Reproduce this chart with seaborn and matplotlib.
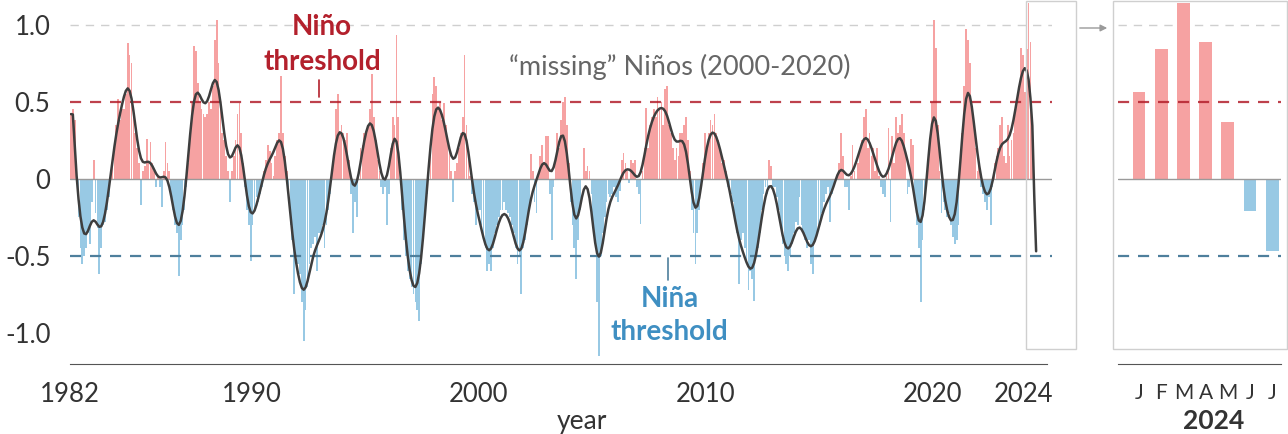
import numpy as np
import pandas as pd
import matplotlib
matplotlib.use("Agg")
import matplotlib.pyplot as plt
import seaborn as sns
from matplotlib.patches import Rectangle

# -----------------------------
# Monthly index, Jan 1982 .. Jul 2024
# -----------------------------
idx_1980s = [
    0.42, 0.45, 0.38, 0.05, -0.25, -0.45, -0.55, -0.50, -0.45, -0.35, -0.42, -0.15,  # 1982
    0.12, -0.22, -0.32, -0.62, -0.45, -0.30, -0.28, -0.20, -0.12, 0.05, 0.15, 0.22,  # 1983
    0.35, 0.52, 0.38, 0.45, 0.45, 0.55, 0.88, 0.80, 0.75, 0.40, 0.30, 0.20,  # 1984
    0.10, -0.17, 0.05, 0.08, 0.26, 0.10, 0.24, 0.10, 0.05, -0.05, 0.02, -0.05,  # 1985
    -0.18, 0.05, 0.24, 0.10, 0.05, -0.10, -0.20, -0.30, -0.35, -0.63, -0.40, -0.30,  # 1986
    -0.20, -0.05, 0.10, 0.30, 0.50, 0.86, 0.83, 0.62, 0.50, 0.45, 0.42, 0.40,  # 1987
    0.42, 0.50, 0.45, 0.60, 0.90, 1.03, 0.75, 0.45, 0.30, 0.25, 0.15, 0.05,  # 1988
    -0.15, 0.05, 0.15, 0.25, 0.42, 0.49, 0.30, 0.10, -0.05, -0.20, -0.30, -0.53,  # 1989
]
idx_1990s = [
    -0.30, -0.20, -0.12, -0.15, -0.10, -0.05, 0.05, 0.12, 0.22, 0.18, 0.10, 0.02,  # 1990
    0.15, 0.25, 0.30, 0.67, 0.30, 0.15, 0.05, -0.05, -0.30, -0.40, -0.75, -0.50,  # 1991
    -0.55, -0.62, -0.80, -1.05, -0.85, -0.70, -0.55, -0.45, -0.42, -0.38, -0.60, -0.35,  # 1992
    -0.35, -0.30, -0.45, -0.30, -0.20, -0.10, 0.05, 0.15, 0.45, 0.55, 0.30, 0.35,  # 1993
    0.30, 0.25, 0.30, 0.12, -0.10, -0.35, -0.15, -0.25, 0.02, 0.20, 0.22, 0.30,  # 1994
    0.30, 0.35, 0.45, 0.68, 0.40, 0.25, 0.12, 0.05, -0.05, -0.10, -0.05, -0.30,  # 1995
    -0.10, 0.20, 0.40, 0.35, 0.93, 0.40, 0.00, -0.20, -0.40, -0.50, -0.60, -0.65,  # 1996
    -0.70, -0.75, -0.80, -0.85, -0.92, -0.55, -0.40, -0.25, -0.10, 0.05, 0.25, 0.55,  # 1997
    0.66, 0.60, 0.45, 0.50, 0.38, 0.49, 0.35, 0.25, 0.20, 0.05, -0.15, 0.05,  # 1998
    0.10, 0.20, 0.30, 0.40, 0.80, 0.35, 0.15, 0.02, -0.10, -0.15, -0.30, -0.20,  # 1999
]
idx_2000s = [
    -0.20, -0.30, -0.40, -0.45, -0.60, -0.55, -0.60, -0.45, -0.35, -0.30, -0.25, -0.20,  # 2000
    -0.20, -0.15, -0.20, -0.22, -0.25, -0.30, -0.35, -0.45, -0.55, -0.50, -0.75, -0.45,  # 2001
    -0.40, -0.30, -0.20, 0.16, 0.05, -0.15, -0.22, 0.05, 0.15, 0.22, 0.10, 0.28,  # 2002
    0.28, -0.10, -0.40, -0.05, 0.15, 0.30, 0.20, 0.38, 0.50, 0.53, 0.35, 0.10,  # 2003
    -0.15, -0.30, -0.45, -0.65, -0.40, -0.20, 0.00, 0.20, 0.05, 0.08, 0.05, -0.10,  # 2004
    -0.30, -0.40, -0.80, -1.15, -0.50, -0.35, -0.25, -0.15, -0.10, -0.12, -0.10, -0.05,  # 2005
    -0.12, -0.15, -0.08, 0.12, 0.17, 0.10, 0.05, -0.03, 0.12, 0.10, 0.12, -0.05,  # 2006
    -0.10, -0.29, 0.05, 0.20, 0.46, 0.20, 0.35, 0.40, 0.45, 0.40, 0.53, 0.45,  # 2007
    0.50, 0.35, 0.58, 0.60, 0.35, 0.30, 0.20, 0.12, 0.20, 0.15, 0.30, 0.30,  # 2008
    0.35, 0.40, 0.25, 0.05, -0.20, -0.35, -0.55, -0.35, -0.20, -0.05, 0.10, 0.30,  # 2009
]
idx_2010s = [
    0.20, 0.30, 0.38, 0.35, 0.42, 0.30, 0.25, 0.20, 0.10, 0.12, 0.05, -0.05,  # 2010
    -0.05, -0.10, -0.15, -0.25, -0.35, -0.68, -0.40, -0.35, -0.45, -0.55, -0.72, -0.60,  # 2011
    -0.65, -0.79, -0.50, -0.45, -0.35, -0.20, -0.10, -0.05, -0.10, 0.12, 0.08, -0.05,  # 2012
    -0.05, -0.12, -0.20, -0.30, -0.42, -0.50, -0.55, -0.60, -0.50, -0.42, -0.35, -0.28,  # 2013
    -0.30, -0.12, -0.30, -0.35, -0.40, -0.45, -0.40, -0.55, -0.62, -0.40, -0.35, -0.30,  # 2014
    -0.30, -0.22, -0.15, -0.10, -0.05, -0.28, -0.10, -0.05, -0.03, 0.02, 0.10, 0.30,  # 2015
    0.15, -0.05, -0.05, -0.20, 0.02, 0.22, 0.05, 0.00, 0.10, 0.20, 0.25, 0.40,  # 2016
    0.45, 0.20, 0.30, 0.15, 0.20, 0.05, 0.20, 0.02, -0.05, -0.10, -0.12, 0.02,  # 2017
    0.33, -0.28, 0.28, 0.10, 0.40, 0.30, 0.35, 0.42, 0.30, 0.15, -0.10, -0.05,  # 2018
    0.26, 0.22, -0.15, -0.30, -0.45, -0.80, -0.40, -0.20, -0.05, 0.10, 0.25, 0.50,  # 2019
]
idx_2020s = [
    1.03, 0.85, 0.35, 0.05, -0.22, -0.15, -0.20, -0.25, -0.22, -0.30, -0.38, -0.42,  # 2020
    -0.40, -0.30, 0.10, 0.30, 0.60, 0.97, 0.90, 0.75, 0.45, 0.35, 0.20, 0.05,  # 2021
    0.10, -0.05, -0.10, -0.15, -0.20, -0.12, -0.30, -0.05, 0.10, 0.15, 0.20, 0.35,  # 2022
    0.40, 0.15, 0.10, 0.35, 0.15, 0.25, 0.30, 0.45, 0.50, 0.60, 0.85, 0.80,  # 2023
    0.56, 0.84, 1.14, 0.89, 0.37, -0.21, -0.47,  # 2024
]

inset_months = ["J", "F", "M", "A", "M", "J", "J"]
year_labels = [1982, 1990, 2000, 2010, 2020, 2024]
y_ticks = [-1.0, -0.5, 0, 0.5, 1.0]
y_labels = ["-1.0", "-0.5", "0", "0.5", "1.0"]

RED = "#f6a2a2"
BLUE = "#98c9e4"
NINO = "#b3202c"
NINA = "#3f8fc2"
LINE = "#3e3e3e"

# -----------------------------
# Build frame + smoothed curve
# -----------------------------
vals = np.array(idx_1980s + idx_1990s + idx_2000s + idx_2010s + idx_2020s)
df = pd.DataFrame({
    "t": 1982 + (np.arange(len(vals)) + 0.5) / 12,
    "val": vals,
})
df["phase"] = np.where(df["val"] >= 0, "pos", "neg")


def smooth(v, sigma=2.6, half=8):
    # gaussian running mean, window shrinks symmetrically at the ends
    out = np.empty(len(v))
    for i in range(len(v)):
        h = min(half, i, len(v) - 1 - i)
        k = np.arange(-h, h + 1)
        w = np.exp(-0.5 * (k / sigma) ** 2)
        out[i] = np.sum(w * v[i - h:i + h + 1]) / w.sum()
    return out


df["smooth"] = smooth(df["val"].values)

inset = df.tail(len(inset_months)).reset_index(drop=True)
inset["pos"] = np.arange(len(inset))

# -----------------------------
# Figure
# -----------------------------
sns.set_style("white")
plt.rcParams["font.family"] = ["Lato", "DejaVu Sans"]

W, H = 1288, 434
fig = plt.figure(figsize=(W / 100, H / 100), dpi=100)

ylo, yhi = -1.2, 1.16
bottom = 1 - 363.8 / H
height = 363.8 / H

ax = fig.add_axes([70 / W, bottom, (1052 - 70) / W, height])
ax2 = fig.add_axes([1118 / W, bottom, (1281 - 1118) / W, height])

pal = {"pos": RED, "neg": BLUE}

# main panel (last two months only in the zoom panel)
sns.barplot(data=df.iloc[:-2], x="t", y="val", hue="phase", palette=pal,
            native_scale=True, dodge=False, legend=False, width=0.92,
            saturation=1, errorbar=None, linewidth=0, edgecolor="none",
            ax=ax, zorder=1)
for a in (ax, ax2):
    a.axhline(1.0, color="#cfcfcf", lw=1, ls=(0, (6, 5)), zorder=0)
    a.axhline(0.5, color=NINO, lw=1.6, ls=(0, (5, 4)), alpha=0.85, zorder=3)
    a.axhline(-0.5, color="#4e7f9c", lw=1.6, ls=(0, (5, 4)), zorder=3)
    a.axhline(0, color="#9a9a9a", lw=1, zorder=2)
sns.lineplot(data=df, x="t", y="smooth", color=LINE, lw=1.8, ax=ax, zorder=4)

ax.set_xlim(1982, 1982 + (1052 - 70) / 22.71)
ax.set_ylim(ylo, yhi)
ax.set_yticks(y_ticks)
ax.set_yticklabels(y_labels)
xt = list(range(1982, 2025, 2))
ax.set_xticks(xt)
ax.set_xticklabels([str(y) if y in year_labels else "" for y in xt])
ax.set_ylabel("")
ax.set_xlabel("year", fontsize=19, color="#333333")
ax.xaxis.set_label_coords((582 - 70) / 982, -0.125)
for s in ("left", "top", "right"):
    ax.spines[s].set_visible(False)
ax.spines["bottom"].set_bounds(1982, 2025)
ax.spines["bottom"].set_color("#555555")
ax.tick_params(axis="x", direction="out", length=8, width=1, color="#555555",
               labelsize=18.5, labelcolor="#333333", pad=5)
ax.tick_params(axis="y", length=0, labelsize=18.5, labelcolor="#333333", pad=14)

# annotations
ax.text(1993.1, 0.935, "Niño", color=NINO, fontsize=20, fontweight="bold",
        ha="center", va="baseline")
ax.text(1993.1, 0.708, "threshold", color=NINO, fontsize=20, fontweight="bold",
        ha="center", va="baseline")
ax.plot([1992.96, 1992.96], [0.53, 0.64], color=NINO, lw=1.2)
ax.text(2008.4, -0.83, "Niña", color=NINA, fontsize=20, fontweight="bold",
        ha="center", va="baseline")
ax.text(2008.4, -1.045, "threshold", color=NINA, fontsize=20, fontweight="bold",
        ha="center", va="baseline")
ax.plot([2008.33, 2008.33], [-0.515, -0.655], color="#4e7f9c", lw=1.2)
ax.text(2008.86, 0.675, "\u201cmissing\u201d Niños (2000-2020)", color="#666666",
        fontsize=19.5, ha="center", va="baseline")

# zoom panel
sns.barplot(data=inset, x="pos", y="val", hue="phase", palette=pal,
            native_scale=True, dodge=False, legend=False, width=0.58,
            saturation=1, errorbar=None, linewidth=0, edgecolor="none",
            ax=ax2, zorder=1)
ax2.set_xlim(-0.95, 6.4)
ax2.set_ylim(ylo, yhi)
ax2.set_xticks(inset["pos"])
ax2.set_xticklabels(inset_months)
ax2.set_yticks([])
ax2.set_ylabel("")
ax2.set_xlabel("2024", fontsize=19, fontweight="bold", color="#333333")
ax2.xaxis.set_label_coords((1214 - 1118) / 163, -0.125)
for s in ("left", "top", "right"):
    ax2.spines[s].set_visible(False)
ax2.spines["bottom"].set_color("#555555")
ax2.tick_params(axis="x", direction="out", length=8, width=1, color="#555555",
                labelsize=15, labelcolor="#333333", pad=6)

# highlight box, zoom box and connecting arrow
for x0, x1 in ((1025.7, 1075.7), (1113, 1287)):
    fig.add_artist(Rectangle((x0 / W, 1 - 349 / H), (x1 - x0) / W, 348.5 / H,
                             transform=fig.transFigure, fill=False,
                             ec="#cfcfcf", lw=1))
ax.annotate("", xy=(1110, H - 28), xytext=(1077, H - 28),
            xycoords="figure pixels", textcoords="figure pixels",
            arrowprops=dict(arrowstyle="-|>", color="#9a9a9a", lw=1,
                            mutation_scale=10))

fig.savefig("out.png", dpi=100)
